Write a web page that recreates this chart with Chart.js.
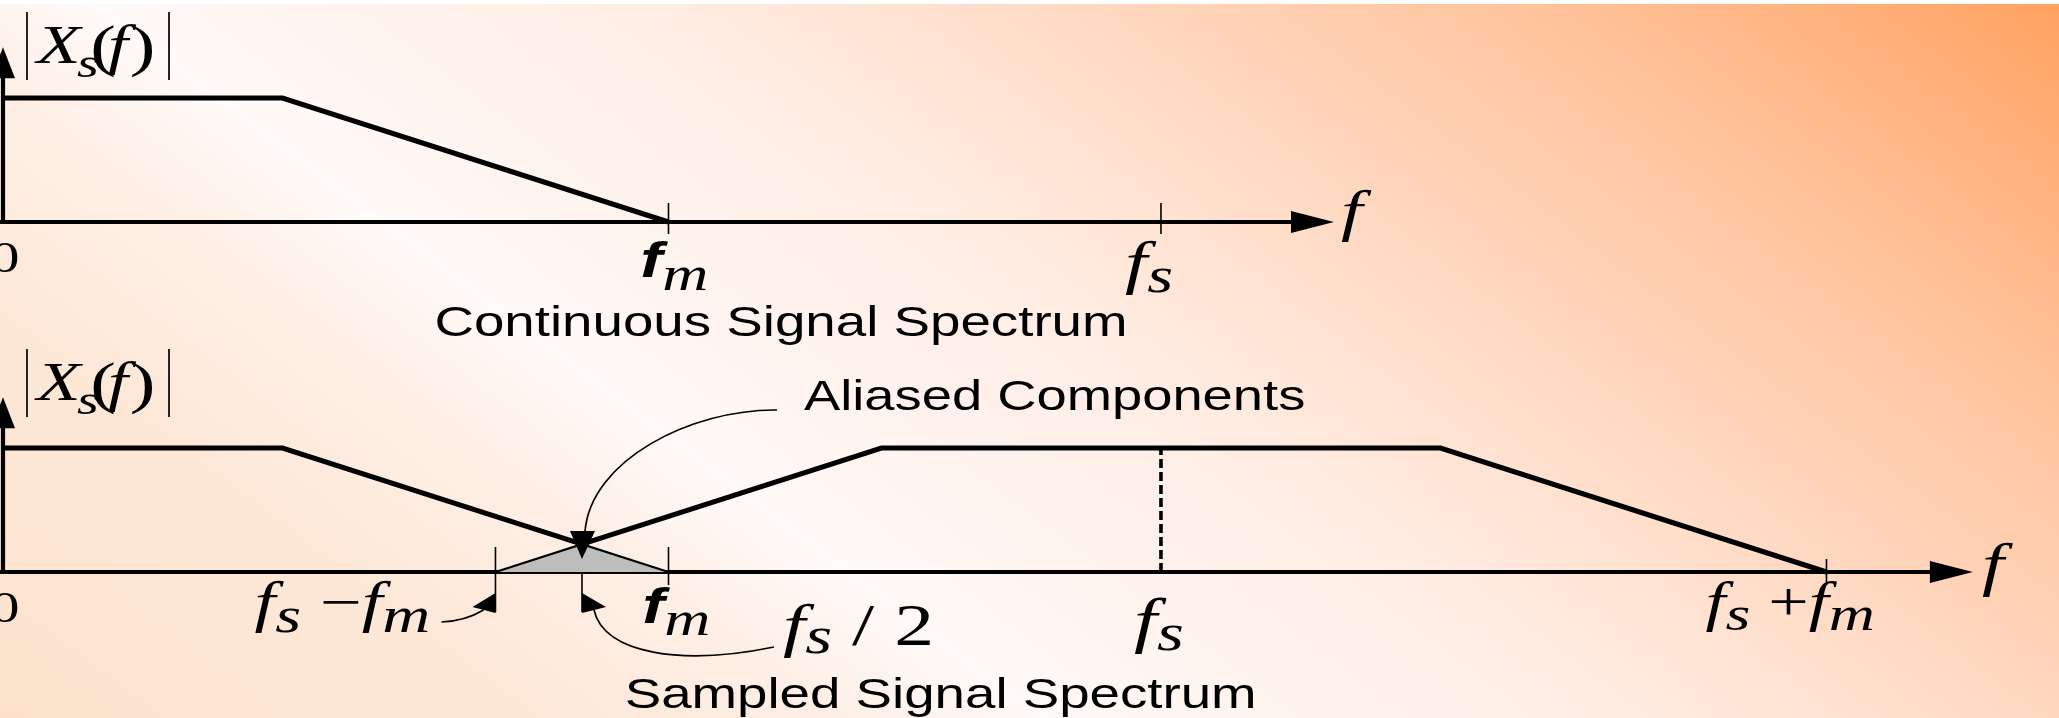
<!DOCTYPE html>
<html>
<head>
<meta charset="utf-8">
<title>Continuous vs. Sampled Signal Spectrum</title>
<script src="https://cdn.jsdelivr.net/npm/chart.js@4.4.1/dist/chart.umd.min.js"></script>
<style>
  html, body { margin: 0; padding: 0; }
  body {
    width: 2059px; height: 718px; overflow: hidden; position: relative;
    background: linear-gradient(37deg,
      #fce2cc 0%, #fde8d8 18%, #feefe6 28%, #fffaf7 34.5%, #fff4ef 41%,
      #ffeee6 52%, #ffe1cf 62%, #ffd3b8 71%, #ffc39c 82%, #ffb17c 92%, #ffa25f 100%);
  }
  #edge { position: absolute; left: 0; top: 0; width: 2059px; height: 4px; background: #fff; }
  canvas { position: absolute; left: 0; top: 0; }
</style>
</head>
<body>
<div id="edge"></div>
<canvas id="contChart" width="2059" height="718"></canvas>
<canvas id="sampChart" width="2059" height="718"></canvas>
<script>
// ---- spectrum data (frequency in units where fm = 10, magnitude normalised to 1) ----
const contSpectrumX = [0, 4.2, 10];
const contSpectrumY = [1, 1, 0];

const baseBandX = [0, 4.2, 8.7];          // baseband copy, down to the crossing point
const baseBandY = [1, 1, 0.224];
const imageBandX = [8.7, 13.2, 21.6, 27.4]; // copy centred on fs, from the crossing point up
const imageBandY = [0.224, 1, 1, 0];
const aliasX = [7.4, 8.7, 10];            // overlap region (aliased components)
const aliasY = [0, 0.224, 0];
const fsMarkerX = [17.4, 17.4];
const fsMarkerY = [0, 1];

const contTickValues = [10, 17.4];
const contTickLabels = ['f_m', 'f_s'];
const sampTickValues = [7.4, 8.7, 10, 17.4, 27.4];
const sampTickLabels = ['f_s −f_m', 'f_s / 2', 'f_m', 'f_s', 'f_s +f_m'];

const contAxisEnd = 20.0;
const sampAxisEnd = 29.6;
const ampAxisTop = 1.41;

// ---- lettering helpers ----
const SX = 1.33;  // horizontal stretch applied to all lettering
const SERIF = '"Liberation Serif", "Times New Roman", serif';
const SANS = '"Liberation Sans", Arial, sans-serif';

function glyphFont(ch, size, boldF) {
  if (/[a-zA-Z]/.test(ch)) {
    return (boldF && ch === 'f') ? `italic bold ${size}px ${SANS}` : `italic ${size}px ${SERIF}`;
  }
  return `${size}px ${SERIF}`;
}
function drawStretched(ctx, text, x, y, font) {
  ctx.save();
  ctx.font = font;
  ctx.translate(x, y);
  ctx.scale(SX, 1);
  ctx.fillText(text, 0, 0);
  ctx.restore();
}
function advance(ctx, text, font) { ctx.font = font; return ctx.measureText(text).width * SX; }
function inkLeft(ctx, text, font) { ctx.font = font; return ctx.measureText(text).actualBoundingBoxLeft * SX; }

// draws a label such as "f_s +f_m" ("_" marks a one-letter subscript); x is the ink left edge
function drawMath(ctx, label, x, base, o) {
  const runs = [];
  for (let i = 0; i < label.length; i++) {
    if (label[i] === '_') { runs.push({ t: label[i + 1], sub: true }); i++; }
    else runs.push({ t: label[i], sub: false });
  }
  let pen = x;
  runs.forEach((r, k) => {
    const size = r.sub ? o.sub : o.size;
    if (r.t === ' ') { pen += size * 0.25 * SX; return; }
    const font = glyphFont(r.t, size, o.boldF && !r.sub);
    if (k === 0) pen += inkLeft(ctx, r.t, font);
    drawStretched(ctx, r.t, pen, base + (r.sub ? o.drop : 0), font);
    pen += advance(ctx, r.t, font);
  });
}
function drawFitted(ctx, text, left, base, size, width) {
  ctx.save();
  ctx.font = `${size}px ${SANS}`;
  const m = ctx.measureText(text);
  const k = width / (m.actualBoundingBoxLeft + m.actualBoundingBoxRight);
  ctx.translate(left, base);
  ctx.scale(k, 1);
  ctx.fillText(text, m.actualBoundingBoxLeft, 0);
  ctx.restore();
}
function drawZero(ctx, x0, base) {
  const font = `44px ${SERIF}`;
  ctx.font = font;
  const w = ctx.measureText('0').width * SX;
  drawStretched(ctx, '0', x0 - w / 2 + 2, base, font);
}
// places one glyph so that its ink starts at x
function glyphAt(ctx, ch, x, base, font) {
  ctx.font = font;
  const m = ctx.measureText(ch);
  drawStretched(ctx, ch, x + m.actualBoundingBoxLeft * SX, base, font);
}
// |X_s(f)| heading of the magnitude axis; yb is the bottom of the bars
function drawMagLabel(ctx, yb) {
  ctx.save();
  ctx.lineWidth = 1.7;
  ctx.beginPath();
  ctx.moveTo(27, yb - 68); ctx.lineTo(27, yb);
  ctx.moveTo(169, yb - 68); ctx.lineTo(169, yb);
  ctx.stroke();
  ctx.restore();
  const it = `italic 54px ${SERIF}`, sub = `italic 42px ${SERIF}`, par = `58px ${SERIF}`;
  glyphAt(ctx, 'X', 34, yb - 17, it);
  glyphAt(ctx, 's', 77, yb - 3, sub);
  glyphAt(ctx, '(', 93, yb - 15, par);
  glyphAt(ctx, 'f', 108, yb - 17, it);
  glyphAt(ctx, ')', 131, yb - 15, par);
}

function drawAxes(chart, axisEnd) {
  const { ctx, scales: { x, y } } = chart;
  const x0 = x.getPixelForValue(0), y0 = y.getPixelForValue(0);
  const xEnd = x.getPixelForValue(axisEnd), yTop = y.getPixelForValue(ampAxisTop);
  ctx.save();
  ctx.strokeStyle = '#000';
  ctx.fillStyle = '#000';
  ctx.lineWidth = 4.2;
  ctx.beginPath(); ctx.moveTo(0, y0); ctx.lineTo(xEnd - 38, y0); ctx.stroke();
  ctx.beginPath(); ctx.moveTo(x0, y0 + 2.1); ctx.lineTo(x0, yTop + 26); ctx.stroke();
  ctx.beginPath();
  ctx.moveTo(xEnd, y0); ctx.lineTo(xEnd - 43, y0 - 11); ctx.lineTo(xEnd - 43, y0 + 11);
  ctx.closePath(); ctx.fill();
  ctx.beginPath();
  ctx.moveTo(x0, yTop); ctx.lineTo(x0 - 12, yTop + 31); ctx.lineTo(x0 + 12, yTop + 31);
  ctx.closePath(); ctx.fill();
  ctx.restore();
}
function tick(ctx, px, y0, up, down) {
  ctx.save();
  ctx.lineWidth = 1.6;
  ctx.strokeStyle = '#000';
  ctx.beginPath(); ctx.moveTo(px, y0 - up); ctx.lineTo(px, y0 + down); ctx.stroke();
  ctx.restore();
}
function arrowHead(ctx, pts) {
  ctx.beginPath();
  ctx.moveTo(pts[0][0], pts[0][1]);
  ctx.lineTo(pts[1][0], pts[1][1]);
  ctx.lineTo(pts[2][0], pts[2][1]);
  ctx.closePath();
  ctx.fill();
}

// ---- panel decorations ----
const contDecor = {
  id: 'contDecor',
  beforeDatasetsDraw(chart) { drawAxes(chart, contAxisEnd); },
  afterDatasetsDraw(chart) {
    const { ctx, scales: { x, y } } = chart;
    const x0 = x.getPixelForValue(0), y0 = y.getPixelForValue(0);
    const xEnd = x.getPixelForValue(contAxisEnd);
    ctx.save();
    ctx.fillStyle = '#000';
    const px = contTickValues.map(v => x.getPixelForValue(v));
    px.forEach(p => tick(ctx, p, y0, 19, 12));
    drawMath(ctx, contTickLabels[0], px[0] - 27, y0 + 55, { size: 50, sub: 48, drop: 13, boldF: true });
    drawMath(ctx, contTickLabels[1], px[1] - 36, y0 + 60, { size: 60, sub: 50, drop: 10 });
    drawMath(ctx, 'f', xEnd + 7, y0 + 8, { size: 58, sub: 46, drop: 0 });
    drawZero(ctx, x0, y0 + 50);
    drawMagLabel(ctx, y0 - 142);
    drawFitted(ctx, 'Continuous Signal Spectrum', 437, y0 + 114, 42, 688);
    ctx.restore();
  }
};

const sampDecor = {
  id: 'sampDecor',
  beforeDatasetsDraw(chart) { drawAxes(chart, sampAxisEnd); },
  afterDatasetsDraw(chart) {
    const { ctx, scales: { x, y } } = chart;
    const x0 = x.getPixelForValue(0), y0 = y.getPixelForValue(0);
    const xEnd = x.getPixelForValue(sampAxisEnd);
    const px = sampTickValues.map(v => x.getPixelForValue(v));
    const [pLo, pHalf, pM, pS, pHi] = px;
    ctx.save();
    ctx.fillStyle = '#000';
    ctx.strokeStyle = '#000';
    tick(ctx, pLo, y0, 25, 40);
    tick(ctx, pHalf, y0, 0, 40);
    tick(ctx, pM, y0, 25, 13);
    tick(ctx, pHi, y0, 13, 13);

    // pointer to fs - fm
    ctx.lineWidth = 1.7;
    ctx.beginPath();
    ctx.moveTo(pLo - 54, y0 + 50);
    ctx.quadraticCurveTo(pLo - 30, y0 + 49, pLo - 12, y0 + 38);
    ctx.stroke();
    arrowHead(ctx, [[pLo, y0 + 21], [pLo, y0 + 41], [pLo - 23, y0 + 35]]);

    // pointer to fs / 2
    ctx.beginPath();
    ctx.moveTo(pHalf + 12, y0 + 38);
    ctx.bezierCurveTo(pHalf + 22, y0 + 82, pHalf + 100, y0 + 94, pHalf + 192, y0 + 75);
    ctx.stroke();
    arrowHead(ctx, [[pHalf, y0 + 21], [pHalf, y0 + 41], [pHalf + 24, y0 + 35]]);

    // pointer to the aliased components
    ctx.beginPath();
    ctx.moveTo(pHalf + 195, y0 - 162);
    ctx.bezierCurveTo(pHalf + 110, y0 - 163, pHalf + 8, y0 - 112, pHalf + 3, y0 - 40);
    ctx.stroke();
    arrowHead(ctx, [[pHalf, y0 - 13], [pHalf - 12, y0 - 41], [pHalf + 13, y0 - 41]]);

    drawMath(ctx, sampTickLabels[0], pLo - 241, y0 + 49, { size: 56, sub: 50, drop: 11 });
    drawMath(ctx, sampTickLabels[1], pHalf + 201, y0 + 73, { size: 60, sub: 52, drop: 8 });
    drawMath(ctx, sampTickLabels[2], pM - 25, y0 + 51, { size: 50, sub: 48, drop: 12, boldF: true });
    drawMath(ctx, sampTickLabels[3], pS - 27, y0 + 69, { size: 62, sub: 52, drop: 9 });
    drawMath(ctx, sampTickLabels[4], pHi - 121, y0 + 48, { size: 54, sub: 48, drop: 10 });
    drawMath(ctx, 'f', xEnd + 9, y0 + 12, { size: 59, sub: 46, drop: 0 });
    drawZero(ctx, x0, y0 + 50);
    drawMagLabel(ctx, y0 - 155);
    drawFitted(ctx, 'Aliased Components', 804, y0 - 162, 42, 500);
    drawFitted(ctx, 'Sampled Signal Spectrum', 626, y0 + 136, 42, 628);
    ctx.restore();
  }
};

// ---- chart construction ----
function pts(xs, ys) { return xs.map((v, i) => ({ x: v, y: ys[i] })); }
function trace(xs, ys, width, extra) {
  return Object.assign({
    data: pts(xs, ys), showLine: true, borderColor: '#000', borderWidth: width,
    pointRadius: 0, tension: 0, clip: false, fill: false,
    borderJoinStyle: 'miter', borderCapStyle: 'butt'
  }, extra || {});
}
const PX_PER_UNIT = 66.55;
const X_MAX = 30;
function chartOptions(padTop, padBottom) {
  return {
    responsive: false, animation: false, devicePixelRatio: 1, events: [],
    layout: { padding: { left: 3, right: 2059 - 3 - X_MAX * PX_PER_UNIT, top: padTop, bottom: padBottom } },
    scales: {
      x: { type: 'linear', min: 0, max: X_MAX, display: false },
      y: { type: 'linear', min: 0, max: 1, display: false }
    },
    plugins: { legend: { display: false }, tooltip: { enabled: false } }
  };
}

new Chart(document.getElementById('contChart'), {
  type: 'scatter',
  data: { datasets: [ trace(contSpectrumX, contSpectrumY, 5) ] },
  options: chartOptions(98, 718 - 222),
  plugins: [contDecor]
});

new Chart(document.getElementById('sampChart'), {
  type: 'scatter',
  data: {
    datasets: [
      trace(baseBandX, baseBandY, 5, { order: 1 }),
      trace(imageBandX, imageBandY, 5, { order: 1 }),
      trace(fsMarkerX, fsMarkerY, 3.6, { order: 2, borderDash: [9, 4] }),
      trace(aliasX, aliasY, 2.2, { order: 3, fill: 'origin', backgroundColor: '#bdbdbd' })
    ]
  },
  options: chartOptions(448, 718 - 572),
  plugins: [sampDecor]
});
</script>
</body>
</html>
